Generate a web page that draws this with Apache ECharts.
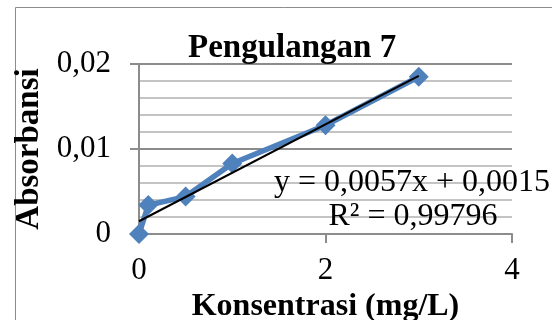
<!DOCTYPE html>
<html>
<head>
<meta charset="utf-8">
<script src="https://cdn.jsdelivr.net/npm/echarts@6/dist/echarts.min.js"></script>
<style>html,body{margin:0;padding:0;background:#fff}#c{width:552px;height:320px}</style>
</head>
<body>
<div id="c"></div>
<script>
var chartTitle = 'Pengulangan 7';
var xName = 'Konsentrasi (mg/L)';
var yName = 'Absorbansi';
var concentration = [0, 0.1, 0.5, 1, 2, 3];
var absorbance = [0, 0.0034, 0.0044, 0.0083, 0.0128, 0.0185];
var trendX = [0, 3];
var trendY = [0.0015, 0.0186];
var equationText = 'y = 0,0057x + 0,0015';
var r2Text = 'R\u00b2 = 0,99796';

var serif = '"Liberation Serif", "Times New Roman", serif';
var pts = concentration.map(function (x, i) { return [x, absorbance[i]]; });
var trend = trendX.map(function (x, i) { return [x, trendY[i]]; });
function comma(v) { return String(v).replace('.', ','); }

var chart = echarts.init(document.getElementById('c'), null, {renderer: 'canvas'});
chart.setOption({
  backgroundColor: '#fff',
  animation: false,
  title: {
    text: chartTitle, left: 183, top: 27,
    textStyle: {fontFamily: serif, fontSize: 33, fontWeight: 'bold', color: '#000'}
  },
  grid: {left: 139, right: 40, top: 64, bottom: 86, containLabel: false, outerBoundsMode: 'none'},
  xAxis: {
    type: 'value', min: 0, max: 4, interval: 2,
    name: xName, nameLocation: 'middle', nameGap: 50,
    nameTextStyle: {fontFamily: serif, fontSize: 32, fontWeight: 'bold', color: '#000'},
    axisLine: {show: true, lineStyle: {color: '#8c8c8c', width: 2}},
    axisTick: {show: true, length: 9, lineStyle: {color: '#8c8c8c', width: 2}},
    axisLabel: {fontFamily: serif, fontSize: 31, color: '#000', margin: 21},
    splitLine: {show: false}
  },
  yAxis: {
    type: 'value', min: 0, max: 0.02, interval: 0.01,
    name: yName, nameLocation: 'middle', nameGap: 84, nameRotate: 90,
    nameTextStyle: {fontFamily: serif, fontSize: 33, fontWeight: 'bold', color: '#000'},
    axisLine: {show: true, lineStyle: {color: '#8c8c8c', width: 2}},
    axisTick: {show: true, length: 9, lineStyle: {color: '#8c8c8c', width: 2}},
    axisLabel: {fontFamily: serif, fontSize: 31, color: '#000', margin: 28, formatter: comma},
    splitLine: {show: true, lineStyle: {color: '#8c8c8c', width: 2}},
    minorTick: {show: false, splitNumber: 5},
    minorSplitLine: {show: true, lineStyle: {color: '#c4c4c4', width: 2}}
  },
  series: [
    {
      type: 'line', data: pts, z: 3,
      symbol: 'diamond', symbolSize: 20,
      lineStyle: {color: '#4f81bd', width: 5.5},
      itemStyle: {color: '#4f81bd'}
    },
    {
      type: 'line', data: trend, z: 4, symbol: 'none',
      lineStyle: {color: '#000', width: 2}
    }
  ],
  graphic: [
    {type: 'rect', shape: {x: 15.5, y: 7.5, width: 700, height: 500}, style: {fill: 'none', stroke: '#8c8c8c', lineWidth: 1}, silent: true},
    {type: 'text', x: 412, y: 183, z: 10, style: {text: equationText, fontFamily: serif, fontSize: 32, fill: '#000', align: 'center', verticalAlign: 'middle'}},
    {type: 'text', x: 413, y: 217, z: 10, style: {text: r2Text, fontFamily: serif, fontSize: 32, fill: '#000', align: 'center', verticalAlign: 'middle'}}
  ]
});
</script>
</body>
</html>
